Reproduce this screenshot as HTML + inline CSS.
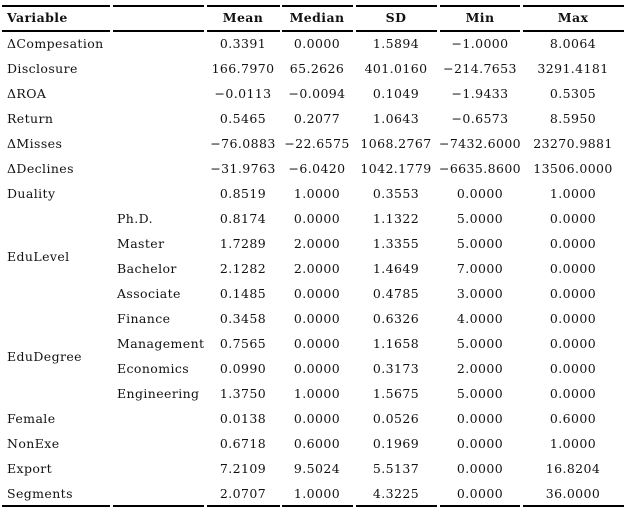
<!DOCTYPE html><html><head><style>
body{margin:0;width:628px;height:511px;background:#fff;position:relative;overflow:hidden;font-family:"DejaVu Serif","Liberation Serif",serif;font-size:12.5px;color:#111;letter-spacing:0.4px}
.l{position:absolute;height:1.5px;background:#000}
.t{position:absolute;line-height:16px;white-space:nowrap}
.c{transform:translateX(-50%)}
.b{font-weight:bold}
</style></head><body>
<div id="g"></div>
<script>
const cols=[[2,110],[113,204],[207,280],[282,353],[356,437],[440,520],[523,624]];
let h='';
for(const [a,b] of cols){h+=`<div class="l" style="left:${a}px;width:${b-a}px;top:5px"></div><div class="l" style="left:${a}px;width:${b-a}px;top:30px"></div><div class="l" style="left:${a}px;width:${b-a}px;top:505px"></div>`;}
const cx=[243,317,396,480,573];
h+=`<div class="t b" style="left:7px;top:10px">Variable</div>`;
['Mean','Median','SD','Min','Max'].forEach((s,i)=>h+=`<div class="t b c" style="left:${cx[i]}px;top:10px">${s}</div>`);
const rows=[
['ΔCompesation','','0.3391','0.0000','1.5894','−1.0000','8.0064'],
['Disclosure','','166.7970','65.2626','401.0160','−214.7653','3291.4181'],
['ΔROA','','−0.0113','−0.0094','0.1049','−1.9433','0.5305'],
['Return','','0.5465','0.2077','1.0643','−0.6573','8.5950'],
['ΔMisses','','−76.0883','−22.6575','1068.2767','−7432.6000','23270.9881'],
['ΔDeclines','','−31.9763','−6.0420','1042.1779','−6635.8600','13506.0000'],
['Duality','','0.8519','1.0000','0.3553','0.0000','1.0000'],
['','Ph.D.','0.8174','0.0000','1.1322','5.0000','0.0000'],
['','Master','1.7289','2.0000','1.3355','5.0000','0.0000'],
['','Bachelor','2.1282','2.0000','1.4649','7.0000','0.0000'],
['','Associate','0.1485','0.0000','0.4785','3.0000','0.0000'],
['','Finance','0.3458','0.0000','0.6326','4.0000','0.0000'],
['','Management','0.7565','0.0000','1.1658','5.0000','0.0000'],
['','Economics','0.0990','0.0000','0.3173','2.0000','0.0000'],
['','Engineering','1.3750','1.0000','1.5675','5.0000','0.0000'],
['Female','','0.0138','0.0000','0.0526','0.0000','0.6000'],
['NonExe','','0.6718','0.6000','0.1969','0.0000','1.0000'],
['Export','','7.2109','9.5024','5.5137','0.0000','16.8204'],
['Segments','','2.0707','1.0000','4.3225','0.0000','36.0000']];
rows.forEach((r,i)=>{const y=44+25*i-8;
if(r[0])h+=`<div class="t" style="left:7px;top:${y}px">${r[0]}</div>`;
if(r[1])h+=`<div class="t" style="left:117px;top:${y}px">${r[1]}</div>`;
for(let k=0;k<5;k++)h+=`<div class="t c" style="left:${cx[k]}px;top:${y}px">${r[k+2]}</div>`;});
h+=`<div class="t" style="left:7px;top:${44+25*8.5-8}px">EduLevel</div>`;
h+=`<div class="t" style="left:7px;top:${44+25*12.5-8}px">EduDegree</div>`;
document.getElementById('g').innerHTML=h;
</script>
</body></html>
